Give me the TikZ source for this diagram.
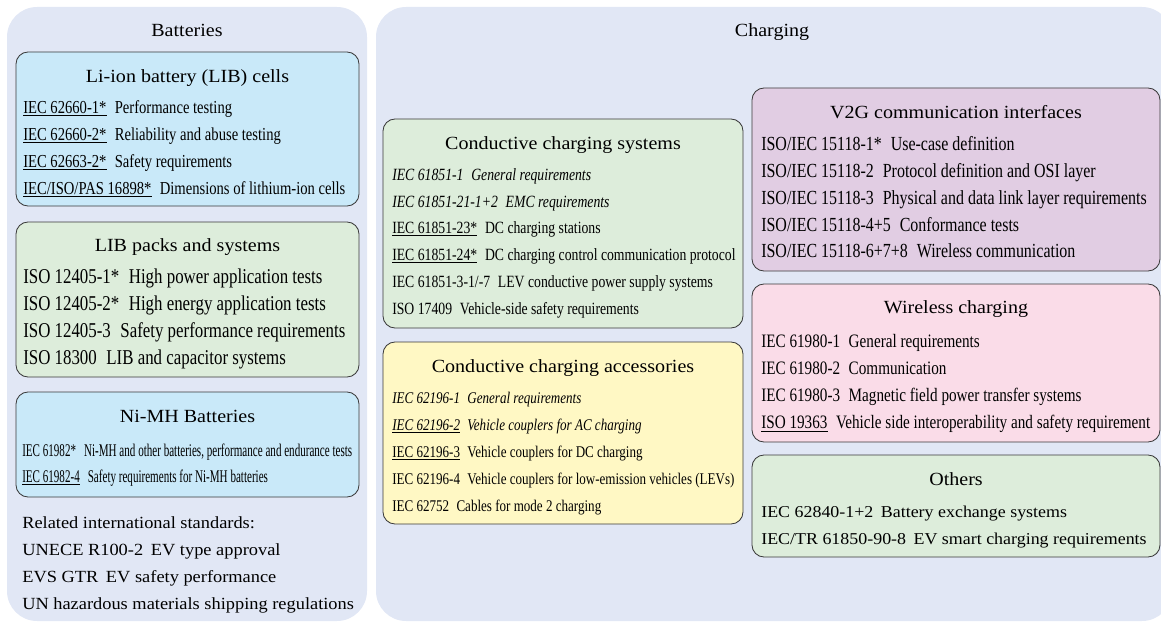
\documentclass[tikz,border=0pt]{standalone}
\usepackage{fontspec}
\setmainfont{Liberation Serif}
\newfontfamily\ttlfont{Liberation Serif}[FakeStretch=1.08]
\newfontfamily\condfont{Liberation Serif}[FakeStretch=0.8]
\newfontfamily\narrowfont{Liberation Serif}[FakeStretch=0.62]
\newcommand\stdsep{\hspace{0.45em}}

\begin{document}
\begin{tikzpicture}[
  x=0.025cm, y=-0.025cm,
  panel/.style={fill=PanelBg, rounded corners=0.75cm},
  catbox/.style={draw=BoxLine, line width=0.6pt, rounded corners=0.3cm},
  head/.style={font=\ttlfont\fontsize{13.2}{15}\selectfont, anchor=center, inner sep=0, text height=0.8em, text depth=0em},
  entry/.style={anchor=west, inner sep=0, text height=0.8em, text depth=0em},
]
\definecolor{PanelBg}{HTML}{E1E7F5}
\definecolor{BoxLine}{HTML}{3A3A3A}
\definecolor{CellCol}{HTML}{C9E9F9}
\definecolor{PackCol}{HTML}{DDEDDB}
\definecolor{AccCol}{HTML}{FFF8C4}
\definecolor{VtgCol}{HTML}{E1CDE3}
\definecolor{WlsCol}{HTML}{FADCE8}
\useasboundingbox (0,0) rectangle (1161,623);

% ---- panels ----
\fill[panel] (7,7) rectangle (367,621);
\fill[panel] (376,7) rectangle (1172,621);
\node[head] (bat) at (187,31) {Batteries};
\node[head] (chg) at (772,31) {Charging};

% ---- left: Li-ion cells ----
\filldraw[catbox, fill=CellCol] (16,52) rectangle (359,206);
\node[head] (cellsT) at (187.5,77) {Li-ion battery (LIB) cells};
\begin{scope}[font=\condfont\fontsize{13}{15}\selectfont]
  \node[entry] (cells1) at (23,108) {\underline{IEC 62660-1*}\stdsep Performance testing};
  \node[entry] (cells2) at (23,135) {\underline{IEC 62660-2*}\stdsep Reliability and abuse testing};
  \node[entry] (cells3) at (23,162) {\underline{IEC 62663-2*}\stdsep Safety requirements};
  \node[entry] (cells4) at (23,189) {\underline{IEC/ISO/PAS 16898*}\stdsep Dimensions of lithium-ion cells};
\end{scope}

% ---- left: LIB packs ----
\filldraw[catbox, fill=PackCol] (16,222) rectangle (359,377);
\node[head] (packsT) at (187.5,246) {LIB packs and systems};
\begin{scope}[font=\condfont\fontsize{15}{17}\selectfont]
  \node[entry] (packs1) at (23,278) {ISO 12405-1*\stdsep High power application tests};
  \node[entry] (packs2) at (23,305) {ISO 12405-2*\stdsep High energy application tests};
  \node[entry] (packs3) at (23,332) {ISO 12405-3\stdsep Safety performance requirements};
  \node[entry] (packs4) at (23,359) {ISO 18300\stdsep LIB and capacitor systems};
\end{scope}

% ---- left: Ni-MH ----
\filldraw[catbox, fill=CellCol] (16,392) rectangle (359,497);
\node[head] (nimhT) at (187.5,417) {Ni-MH Batteries};
\begin{scope}[font=\narrowfont\fontsize{12.7}{15}\selectfont]
  \node[entry] (nimh1) at (22,451) {IEC 61982*\stdsep Ni-MH and other batteries, performance and endurance tests};
  \node[entry] (nimh2) at (22,477) {\underline{IEC 61982-4}\stdsep Safety requirements for Ni-MH batteries};
\end{scope}

% ---- left: related standards ----
\begin{scope}[font=\ttlfont\fontsize{12.1}{15}\selectfont]
  \node[entry] (rel0) at (22,523) {Related international standards:};
  \node[entry] (rel1) at (22,550) {UNECE R100-2\stdsep EV type approval};
  \node[entry] (rel2) at (22,577) {EVS GTR\stdsep EV safety performance};
  \node[entry] (rel3) at (22,604) {UN hazardous materials shipping regulations};
\end{scope}

% ---- middle: conductive charging systems ----
\filldraw[catbox, fill=PackCol] (383,119) rectangle (743,328);
\node[head] (sysT) at (563,144) {Conductive charging systems};
\begin{scope}[font=\condfont\fontsize{12.2}{15}\selectfont]
  \node[entry] (sys1) at (392,175) {\itshape IEC 61851-1\stdsep General requirements};
  \node[entry] (sys2) at (392,202) {\itshape IEC 61851-21-1+2\stdsep EMC requirements};
  \node[entry] (sys3) at (392,228) {\underline{IEC 61851-23*}\stdsep DC charging stations};
  \node[entry] (sys4) at (392,255) {\underline{IEC 61851-24*}\stdsep DC charging control communication protocol};
  \node[entry] (sys5) at (392,282) {IEC 61851-3-1/-7\stdsep LEV conductive power supply systems};
  \node[entry] (sys6) at (392,309) {ISO 17409\stdsep Vehicle-side safety requirements};
\end{scope}

% ---- middle: conductive charging accessories ----
\filldraw[catbox, fill=AccCol] (383,342) rectangle (743,524);
\node[head] (accT) at (563,367) {Conductive charging accessories};
\begin{scope}[font=\condfont\fontsize{11.6}{14}\selectfont]
  \node[entry] (acc1) at (392,398) {\itshape IEC 62196-1\stdsep General requirements};
  \node[entry] (acc2) at (392,425) {\itshape \underline{IEC 62196-2}\stdsep Vehicle couplers for AC charging};
  \node[entry] (acc3) at (392,452) {\underline{IEC 62196-3}\stdsep Vehicle couplers for DC charging};
  \node[entry] (acc4) at (392,479) {IEC 62196-4\stdsep Vehicle couplers for low-emission vehicles (LEVs)};
  \node[entry] (acc5) at (392,506) {IEC 62752\stdsep Cables for mode 2 charging};
\end{scope}

% ---- right: V2G ----
\filldraw[catbox, fill=VtgCol] (752,88) rectangle (1160,271);
\node[head] (vtgT) at (956,113) {V2G communication interfaces};
\begin{scope}[font=\condfont\fontsize{14.2}{16}\selectfont]
  \node[entry] (vtg1) at (761,145) {ISO/IEC 15118-1*\stdsep Use-case definition};
  \node[entry] (vtg2) at (761,172) {ISO/IEC 15118-2\stdsep Protocol definition and OSI layer};
  \node[entry] (vtg3) at (761,199) {ISO/IEC 15118-3\stdsep Physical and data link layer requirements};
  \node[entry] (vtg4) at (761,226) {ISO/IEC 15118-4+5\stdsep Conformance tests};
  \node[entry] (vtg5) at (761,252) {ISO/IEC 15118-6+7+8\stdsep Wireless communication};
\end{scope}

% ---- right: wireless ----
\filldraw[catbox, fill=WlsCol] (752,284) rectangle (1160,442);
\node[head] (wlsT) at (956,308) {Wireless charging};
\begin{scope}[font=\condfont\fontsize{13.5}{16}\selectfont]
  \node[entry] (wls1) at (761,342) {IEC 61980-1\stdsep General requirements};
  \node[entry] (wls2) at (761,369) {IEC 61980-2\stdsep Communication};
  \node[entry] (wls3) at (761,396) {IEC 61980-3\stdsep Magnetic field power transfer systems};
  \node[entry] (wls4) at (761,423) {\underline{ISO 19363}\stdsep Vehicle side interoperability and safety requirement};
\end{scope}

% ---- right: others ----
\filldraw[catbox, fill=PackCol] (752,455) rectangle (1160,557);
\node[head] (othT) at (956,480) {Others};
\begin{scope}[font=\ttlfont\fontsize{11.8}{15}\selectfont]
  \node[entry] (oth1) at (761,512) {IEC 62840-1+2\stdsep Battery exchange systems};
  \node[entry] (oth2) at (761,539) {IEC/TR 61850-90-8\stdsep EV smart charging requirements};
\end{scope}
\end{tikzpicture}
\end{document}
